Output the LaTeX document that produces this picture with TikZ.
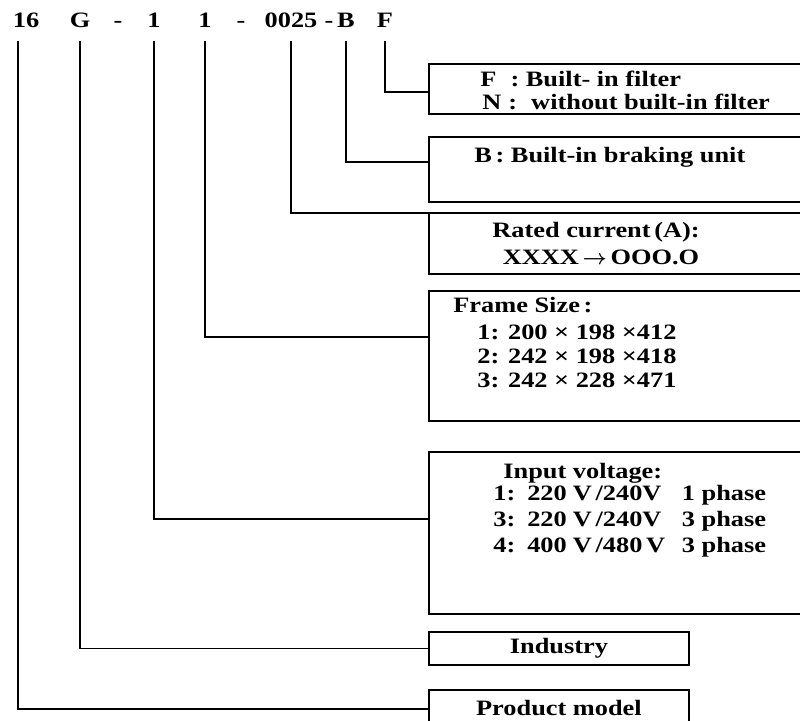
\documentclass[tikz,border=0pt]{standalone}
\usepackage{fontspec}
\setmainfont{Liberation Serif}[FakeStretch=1.2]
\usetikzlibrary{positioning,calc}
\newcommand{\codefont}{\fontsize{12.5}{13.5}\selectfont\bfseries}
\tikzset{
  code/.style={font=\codefont,inner sep=0pt,anchor=base,text depth=7.4pt},
  box/.style={draw,line width=1.1pt,inner sep=0pt,anchor=north west,font=\codefont},
  txt/.style={font=\codefont,inner sep=0pt,anchor=base west},
  wire/.style={line width=1.1pt}
}
\newcommand{\voltrow}[6]{%
  \node[txt] (#1) at (493,#2) {\makebox[19.3pt][l]{#3}\makebox[26pt][l]{#4}\makebox[62pt][l]{#5}#6};
}

\begin{document}
\begin{tikzpicture}[x=0.02cm,y=-0.02cm]
  \useasboundingbox (0,0) rectangle (800,720);
  % type code
  \node[code] (c16) at (26,28) {16};
  \node[code] (cG) at (80,28) {G};
  \node[code] (d1) at (118,28) {-};
  \node[code] (cA) at (154,28) {1};
  \node[code] (cB) at (205,28) {1};
  \node[code] (d2) at (241,28) {-};
  \node[code] (cC) at (291,28) {0025};
  \node[code] (d3) at (329,28) {-};
  \node[code] (cD) at (346,28) {B};
  \node[code] (cE) at (385,28) {F};
  % boxes
  \node[box,minimum width=7.8cm,minimum height=1cm] (filt) at (428,63) {};
  \node[box,minimum width=7.8cm,minimum height=1.3cm] (brake) at (428,136) {};
  \node[box,minimum width=7.8cm,minimum height=1.22cm] (curr) at (428,212) {};
  \node[box,minimum width=7.8cm,minimum height=2.6cm] (frame) at (428,290) {};
  \node[box,minimum width=7.8cm,minimum height=3.24cm] (volt) at (428,451) {};
  \node[box,minimum width=5.2cm,minimum height=0.66cm] (ind) at (428,631) {Industry};
  \node[box,minimum width=5.2cm,minimum height=0.72cm] (model) at (428,689) {Product model};
  % box texts
  \node[txt] (filtF) at (480,86) {F\hspace{8pt}: Built- in filter};
  \node[txt] (filtN) at (482,109) {N\hspace{4pt}:\hspace{8pt}without built-in filter};
  \node[txt] (brakeB) at (474,162) {B\,:\ Built-in braking unit};
  \node[txt,anchor=base] (currA) at (596,237) {Rated current\,(A):};
  \node[txt,anchor=base] (currX) at (601,264) {XXXX\,{\boldmath$\rightarrow$}\,OOO.O};
  \node[txt] (frameT) at (453,312) {Frame Size\,:};
  \node[txt] (frame1) at (477,339) {1: 200 × 198 ×412};
  \node[txt] (frame2) at (477,363) {2: 242 × 198 ×418};
  \node[txt] (frame3) at (477,387) {3: 242 × 228 ×471};
  \node[txt] (voltT) at (503,478) {Input voltage:};
  \voltrow{volt1}{500}{1:}{220}{V\,/240V}{1 phase}
  \voltrow{volt3}{526}{3:}{220}{V\,/240V}{3 phase}
  \voltrow{volt4}{552}{4:}{400}{V\,/480\,V}{3 phase}
  % leaders
  \draw[wire] (cE.south) |- ($(filt.north west)+(0,29)$);
  \draw[wire] (cD.south) |- ($(brake.north west)+(0,26)$);
  \draw[wire] (cC.south) |- ($(curr.north west)+(0,1)$);
  \draw[wire] (cB.south) |- ($(frame.north west)+(0,47)$);
  \draw[wire] (cA.south) |- ($(volt.north west)+(0,68)$);
  \draw[wire] (cG.south) |- (ind.west);
  \draw[wire] ($(c16.south)+(-8,0)$) |- ($(model.north west)+(0,20)$);
\end{tikzpicture}
\end{document}
